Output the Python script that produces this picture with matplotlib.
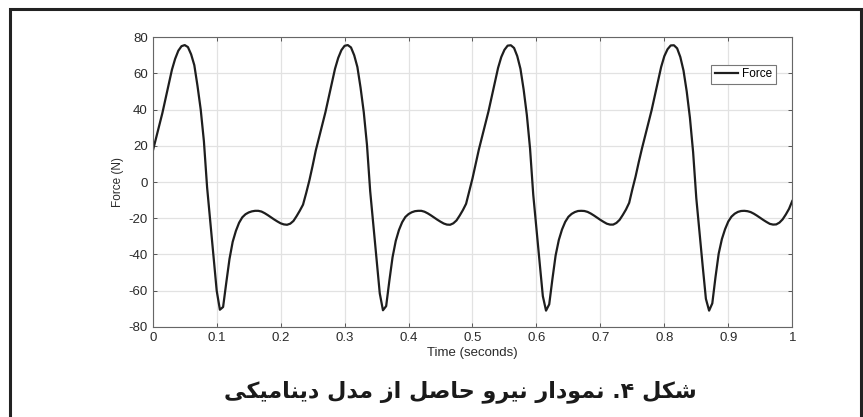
import numpy as np
import matplotlib.pyplot as plt
from matplotlib.patches import Rectangle

# force, one value every 0.005 s
time = np.linspace(0, 1, 201)
# 0 - 0.25 s
force_1 = [17, 24, 31, 38, 46, 54, 62, 68, 72.5, 75, 75.6, 74.5, 70.5, 64.5, 53, 40, 22.5, -3, -22, -40.5,
           -60, -70.5, -69, -55.5, -42.5, -33, -27, -22.5, -19.5, -17.8, -16.8, -16.2, -15.9, -15.9, -16.3,
           -17.2, -18.3, -19.5, -20.7, -21.8, -22.8, -23.4, -23.6, -23, -21.5, -18.8, -15.8, -12.5, -6, 1, 9]
# 0.255 - 0.505 s
force_2 = [17.5, 24.5, 31.5, 38.5, 46.5, 54.5, 62.5, 68.5, 72.8, 75.2, 75.6, 74.3, 70, 63.5, 52, 38.5, 20.5, -5, -24, -42.5,
           -61.5, -70.8, -68.5, -54.5, -41.5, -32.5, -26.5, -22.2, -19.3, -17.7, -16.7, -16.1, -15.9, -15.9, -16.4,
           -17.3, -18.4, -19.6, -20.8, -21.9, -22.9, -23.5, -23.6, -22.8, -21.2, -18.5, -15.5, -12, -5, 2, 10]
# 0.51 - 0.76 s
force_3 = [18, 25, 32, 39, 47, 55, 63, 69, 73, 75.3, 75.5, 74, 69.5, 62.5, 51, 37, 18.5, -7, -26, -44.5,
           -63, -71, -67.5, -53.5, -40.5, -32, -26.2, -22, -19.2, -17.6, -16.6, -16, -15.9, -16, -16.5,
           -17.4, -18.5, -19.7, -20.9, -22, -23, -23.5, -23.5, -22.6, -20.9, -18.2, -15.2, -11.5, -4, 3, 11]
# 0.765 - 1 s
force_4 = [18.5, 25.5, 32.5, 39.5, 47.5, 55.5, 63.5, 69.5, 73.3, 75.4, 75.5, 73.8, 69, 61.5, 50, 35.5, 16.5, -9, -28, -46.5,
           -64.5, -71, -67, -52.5, -39.5, -31.5, -26, -21.8, -19.1, -17.5, -16.5, -16, -15.9, -16.1, -16.6,
           -17.5, -18.6, -19.8, -21, -22.1, -23.1, -23.5, -23.4, -22.4, -20.6, -17.9, -14.8, -10.5]
force = force_1 + force_2 + force_3 + force_4

x_ticks = [0, 0.1, 0.2, 0.3, 0.4, 0.5, 0.6, 0.7, 0.8, 0.9, 1]
x_labels = ['0', '0.1', '0.2', '0.3', '0.4', '0.5', '0.6', '0.7', '0.8', '0.9', '1']
y_ticks = [-80, -60, -40, -20, 0, 20, 40, 60, 80]

# caption "شکل ۴. نمودار نیرو حاصل از مدل دینامیکی", shaped by hand and laid out left to right
caption = ('\ufbfd\ufb91\ufbff\ufee3\ufe8e\ufee8\ufbfe\ufea9 '
           '\ufedd\ufeaa\ufee3 '
           '\ufeaf\ufe8d '
           '\ufede\ufebb\ufe8e\ufea3 '
           '\ufeed\ufeae\ufbff\ufee7 '
           '\ufead\ufe8d\ufea9\ufeee\ufee4\ufee7 '
           '.\u06f4 '
           '\ufede\ufb91\ufeb7')

plt.rcParams['font.family'] = ['Liberation Sans', 'DejaVu Sans']
plt.rcParams['axes.unicode_minus'] = False

fig = plt.figure(figsize=(8.63, 4.17), dpi=100)
ax = fig.add_axes([0.177, 0.216, 0.741, 0.695])

ax.plot(time, force, color='#1e1e1e', lw=1.6, label='Force')

ax.set_xlim(0, 1)
ax.set_ylim(-80, 80)
ax.set_xticks(x_ticks)
ax.set_xticklabels(x_labels)
ax.set_yticks(y_ticks)
ax.grid(True, color='#e2e2e2', lw=0.9)
ax.set_axisbelow(True)
ax.tick_params(direction='in', length=3, width=0.7, colors='#555555', labelcolor='#2a2a2a',
               labelsize=9.5, top=True, right=True, pad=3.5)
for s in ax.spines.values():
    s.set_color('#666666')
    s.set_linewidth(0.8)

ax.set_xlabel('Time (seconds)', fontsize=9.5, color='#2a2a2a', labelpad=2)
ax.set_ylabel('Force (N)', fontsize=8.5, color='#2a2a2a', labelpad=3)

leg = ax.legend(loc='upper right', bbox_to_anchor=(0.974, 0.905), borderaxespad=0,
                fontsize=8.5, handlelength=2.0, handletextpad=0.3, borderpad=0.3,
                fancybox=False, framealpha=1)
leg.get_frame().set_edgecolor('#777777')
leg.get_frame().set_linewidth(0.8)

# outer frame of the figure
fig.patches.append(Rectangle((10 / 863, -0.1), 851 / 863, 1.1 - 9 / 417, transform=fig.transFigure,
                             fill=False, edgecolor='#222222', lw=2.2))

fig.text(0.533, 0.062, caption, ha='center', va='center', fontsize=16, fontweight='bold',
         family=['DejaVu Sans'], color='#1a1a1a')

fig.savefig('out.png', dpi=100)
